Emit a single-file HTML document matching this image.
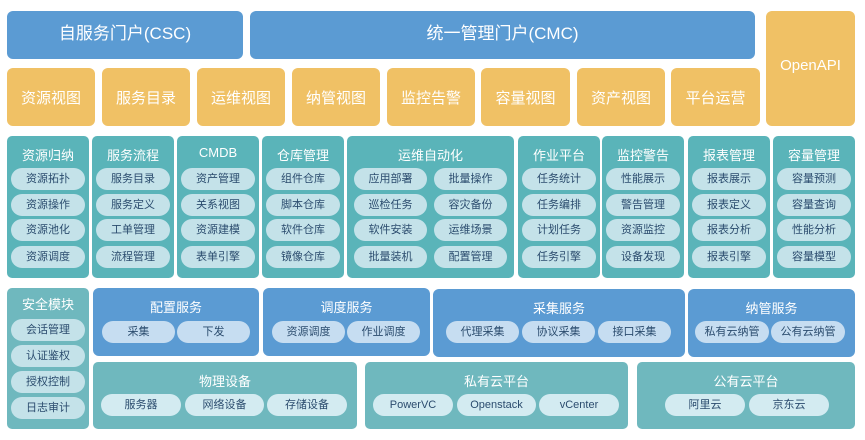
<!DOCTYPE html>
<html><head><meta charset="utf-8"><style>
body{margin:0;width:865px;height:440px;background:#fff;position:relative;overflow:hidden;font-family:"Liberation Sans","Noto Sans CJK SC",sans-serif}
div{position:absolute;box-sizing:border-box}
.b{background:#5b9bd3;border-radius:6px;color:#fff}
.y{background:#f0c165;border-radius:6px;color:#fff;font-size:15px;display:flex;align-items:center;justify-content:center}
.t{background:#5ab4b9;border-radius:5px;color:#fff}
.g{background:#6fb8be;border-radius:5px;color:#fff}
.h{left:0;right:0;text-align:center;font-size:13px;top:9px}
.p{height:22px;border-radius:11px;background:#c4e2e9;color:#2b4c6e;font-size:11px;text-align:center;line-height:22px}
.q{height:22px;border-radius:11px;background:#c6ddf1;color:#2b4c6e;font-size:11px;text-align:center;line-height:22px}
.r{height:22px;border-radius:11px;background:#d3ebf1;color:#2b4c6e;font-size:11px;text-align:center;line-height:22px}
</style></head><body>
<div class="b" style="left:7px;top:11px;width:236px;height:48px;font-size:17px;text-align:center;line-height:46px">自服务门户(CSC)</div>
<div class="b" style="left:250px;top:11px;width:505px;height:48px;font-size:17px;text-align:center;line-height:46px">统一管理门户(CMC)</div>
<div class="y" style="left:766px;top:11px;width:89px;height:115px;align-items:flex-start;padding-top:46px">OpenAPI</div>
<div class="y" style="left:7px;top:68px;width:88px;height:58px">资源视图</div>
<div class="y" style="left:102px;top:68px;width:88px;height:58px">服务目录</div>
<div class="y" style="left:197px;top:68px;width:88px;height:58px">运维视图</div>
<div class="y" style="left:292px;top:68px;width:88px;height:58px">纳管视图</div>
<div class="y" style="left:387px;top:68px;width:88px;height:58px">监控告警</div>
<div class="y" style="left:481px;top:68px;width:89px;height:58px">容量视图</div>
<div class="y" style="left:577px;top:68px;width:88px;height:58px">资产视图</div>
<div class="y" style="left:671px;top:68px;width:89px;height:58px">平台运营</div>

<div class="t" style="left:7px;top:136px;width:82px;height:142px"><div class="h">资源归纳</div>
<div class="p" style="left:4px;top:32px;width:74px">资源拓扑</div><div class="p" style="left:4px;top:58px;width:74px">资源操作</div><div class="p" style="left:4px;top:83px;width:74px">资源池化</div><div class="p" style="left:4px;top:110px;width:74px">资源调度</div></div>
<div class="t" style="left:92px;top:136px;width:82px;height:142px"><div class="h">服务流程</div>
<div class="p" style="left:4px;top:32px;width:74px">服务目录</div><div class="p" style="left:4px;top:58px;width:74px">服务定义</div><div class="p" style="left:4px;top:83px;width:74px">工单管理</div><div class="p" style="left:4px;top:110px;width:74px">流程管理</div></div>
<div class="t" style="left:177px;top:136px;width:82px;height:142px"><div class="h">CMDB</div>
<div class="p" style="left:4px;top:32px;width:74px">资产管理</div><div class="p" style="left:4px;top:58px;width:74px">关系视图</div><div class="p" style="left:4px;top:83px;width:74px">资源建模</div><div class="p" style="left:4px;top:110px;width:74px">表单引擎</div></div>
<div class="t" style="left:262px;top:136px;width:82px;height:142px"><div class="h">仓库管理</div>
<div class="p" style="left:4px;top:32px;width:74px">组件仓库</div><div class="p" style="left:4px;top:58px;width:74px">脚本仓库</div><div class="p" style="left:4px;top:83px;width:74px">软件仓库</div><div class="p" style="left:4px;top:110px;width:74px">镜像仓库</div></div>
<div class="t" style="left:347px;top:136px;width:167px;height:142px"><div class="h">运维自动化</div>
<div class="p" style="left:7px;top:32px;width:73px">应用部署</div><div class="p" style="left:7px;top:58px;width:73px">巡检任务</div><div class="p" style="left:7px;top:83px;width:73px">软件安装</div><div class="p" style="left:7px;top:110px;width:73px">批量装机</div>
<div class="p" style="left:87px;top:32px;width:73px">批量操作</div><div class="p" style="left:87px;top:58px;width:73px">容灾备份</div><div class="p" style="left:87px;top:83px;width:73px">运维场景</div><div class="p" style="left:87px;top:110px;width:73px">配置管理</div></div>
<div class="t" style="left:518px;top:136px;width:82px;height:142px"><div class="h">作业平台</div>
<div class="p" style="left:4px;top:32px;width:74px">任务统计</div><div class="p" style="left:4px;top:58px;width:74px">任务编排</div><div class="p" style="left:4px;top:83px;width:74px">计划任务</div><div class="p" style="left:4px;top:110px;width:74px">任务引擎</div></div>
<div class="t" style="left:602px;top:136px;width:82px;height:142px"><div class="h">监控警告</div>
<div class="p" style="left:4px;top:32px;width:74px">性能展示</div><div class="p" style="left:4px;top:58px;width:74px">警告管理</div><div class="p" style="left:4px;top:83px;width:74px">资源监控</div><div class="p" style="left:4px;top:110px;width:74px">设备发现</div></div>
<div class="t" style="left:688px;top:136px;width:82px;height:142px"><div class="h">报表管理</div>
<div class="p" style="left:4px;top:32px;width:74px">报表展示</div><div class="p" style="left:4px;top:58px;width:74px">报表定义</div><div class="p" style="left:4px;top:83px;width:74px">报表分析</div><div class="p" style="left:4px;top:110px;width:74px">报表引擎</div></div>
<div class="t" style="left:773px;top:136px;width:82px;height:142px"><div class="h">容量管理</div>
<div class="p" style="left:4px;top:32px;width:74px">容量预测</div><div class="p" style="left:4px;top:58px;width:74px">容量查询</div><div class="p" style="left:4px;top:83px;width:74px">性能分析</div><div class="p" style="left:4px;top:110px;width:74px">容量模型</div></div>

<div class="g" style="left:7px;top:288px;width:82px;height:141px"><div class="h" style="top:6px">安全模块</div>
<div class="p" style="left:4px;top:31px;width:74px">会话管理</div><div class="p" style="left:4px;top:57px;width:74px">认证鉴权</div><div class="p" style="left:4px;top:83px;width:74px">授权控制</div><div class="p" style="left:4px;top:109px;width:74px">日志审计</div></div>

<div class="b" style="left:93px;top:288px;width:166px;height:68px"><div class="h">配置服务</div>
<div class="q" style="left:9px;top:33px;width:73px">采集</div><div class="q" style="left:84px;top:33px;width:73px">下发</div></div>
<div class="b" style="left:263px;top:288px;width:167px;height:68px"><div class="h">调度服务</div>
<div class="q" style="left:9px;top:33px;width:73px">资源调度</div><div class="q" style="left:84px;top:33px;width:73px">作业调度</div></div>
<div class="b" style="left:433px;top:289px;width:252px;height:68px"><div class="h">采集服务</div>
<div class="q" style="left:13px;top:32px;width:73px">代理采集</div><div class="q" style="left:89px;top:32px;width:73px">协议采集</div><div class="q" style="left:165px;top:32px;width:73px">接口采集</div></div>
<div class="b" style="left:688px;top:289px;width:167px;height:68px"><div class="h">纳管服务</div>
<div class="q" style="left:7px;top:32px;width:74px">私有云纳管</div><div class="q" style="left:83px;top:32px;width:74px">公有云纳管</div></div>

<div class="g" style="left:93px;top:362px;width:264px;height:67px"><div class="h">物理设备</div>
<div class="r" style="left:8px;top:32px;width:80px">服务器</div><div class="r" style="left:92px;top:32px;width:79px">网络设备</div><div class="r" style="left:174px;top:32px;width:80px">存储设备</div></div>
<div class="g" style="left:365px;top:362px;width:263px;height:67px"><div class="h">私有云平台</div>
<div class="r" style="left:8px;top:32px;width:80px">PowerVC</div><div class="r" style="left:92px;top:32px;width:79px">Openstack</div><div class="r" style="left:174px;top:32px;width:80px">vCenter</div></div>
<div class="g" style="left:637px;top:362px;width:218px;height:67px"><div class="h">公有云平台</div>
<div class="r" style="left:28px;top:32px;width:80px">阿里云</div><div class="r" style="left:112px;top:32px;width:80px">京东云</div></div>
</body></html>
